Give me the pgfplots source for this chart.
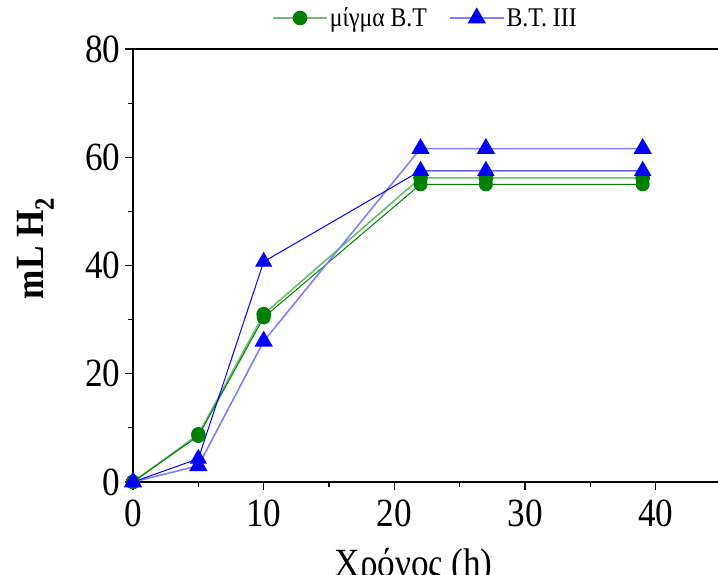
\documentclass[border=0pt]{standalone}
\usepackage{pgfplots}
\pgfplotsset{compat=1.18}
\usepackage{fontspec}
\setmainfont{Liberation Serif}[FakeStretch=0.88]
\definecolor{mgreen}{RGB}{0,128,0}
\definecolor{lgreen}{RGB}{110,190,110}
\definecolor{lblue}{RGB}{128,128,255}
\begin{document}
\begin{tikzpicture}
\begin{axis}[name=ax, scale only axis, width=585pt, height=433pt,
  xmin=0, xmax=44.76, ymin=0, ymax=80,
  axis x line*=box, axis y line*=left,
  xtick={0,10,...,40}, minor xtick={5,15,...,45},
  ytick={0,20,...,80}, minor ytick={10,30,...,70},
  xtick pos=left, ytick pos=left,
  tick align=outside, major tick length=8pt, minor tick length=5pt,
  axis line style={line width=1.5pt},
  every tick/.style={black, line width=1.2pt},
  tick label style={font=\fontsize{40}{40}\selectfont},
  xticklabel style={yshift=-6pt},
  yticklabel style={xshift=-1pt},
  /pgf/number format/assume math mode=true,
  xlabel={Χρόνος (h)},
  ylabel={\textbf{mL H\textsubscript{2}}},
  every axis x label/.style={at={(axis description cs:0.48,0)}, anchor=base, yshift=-95pt, font=\fontsize{40}{40}\selectfont},
  every axis y label/.style={at={(axis description cs:-0.166,0.54)}, anchor=center, rotate=90, font=\fontsize{40}{40}\selectfont},
  legend style={at={(axis description cs:0.5,1)}, anchor=center, yshift=31pt,
    draw=none, fill=none, font=\fontsize{27}{27}\selectfont,
    /tikz/every even column/.append style={column sep=20pt}},
  legend columns=2,
  legend image code/.code={\draw[mark repeat=2,mark phase=2,#1] plot coordinates {(0pt,0pt) (27pt,0pt) (54pt,0pt)};},
  clip=false
]
\addplot[lgreen, line width=1.6pt, mark=*, mark size=6.5pt, mark options={fill=mgreen, draw=mgreen, solid}]
  coordinates {(0,0) (5,8.8) (10,31.0) (22,56.2) (27,56.2) (39,56.2)};
\addlegendentry{μίγμα B.T}
\addplot[mgreen, line width=1.0pt, mark=*, mark size=6.5pt, mark options={fill=mgreen, draw=mgreen, solid}, forget plot]
  coordinates {(0,0) (5,8.5) (10,30.4) (22,55.0) (27,55.0) (39,55.0)};
\addplot[lblue, line width=1.6pt, mark=triangle*, mark size=9pt, mark options={fill=blue, draw=blue, solid}]
  coordinates {(0,0) (5,3.0) (10,26.0) (22,61.6) (27,61.6) (39,61.6)};
\addlegendentry{B.T. III}
\addplot[blue, line width=1.0pt, mark=triangle*, mark size=9pt, mark options={fill=blue, draw=blue, solid}, forget plot]
  coordinates {(0,0) (5,4.3) (10,40.7) (22,57.5) (27,57.5) (39,57.5)};
\end{axis}
\pgfresetboundingbox
\path[use as bounding box] ([shift={(-133pt,-93pt)}]ax.south west) rectangle ([shift={(0pt,49pt)}]ax.north east);
\end{tikzpicture}
\end{document}
